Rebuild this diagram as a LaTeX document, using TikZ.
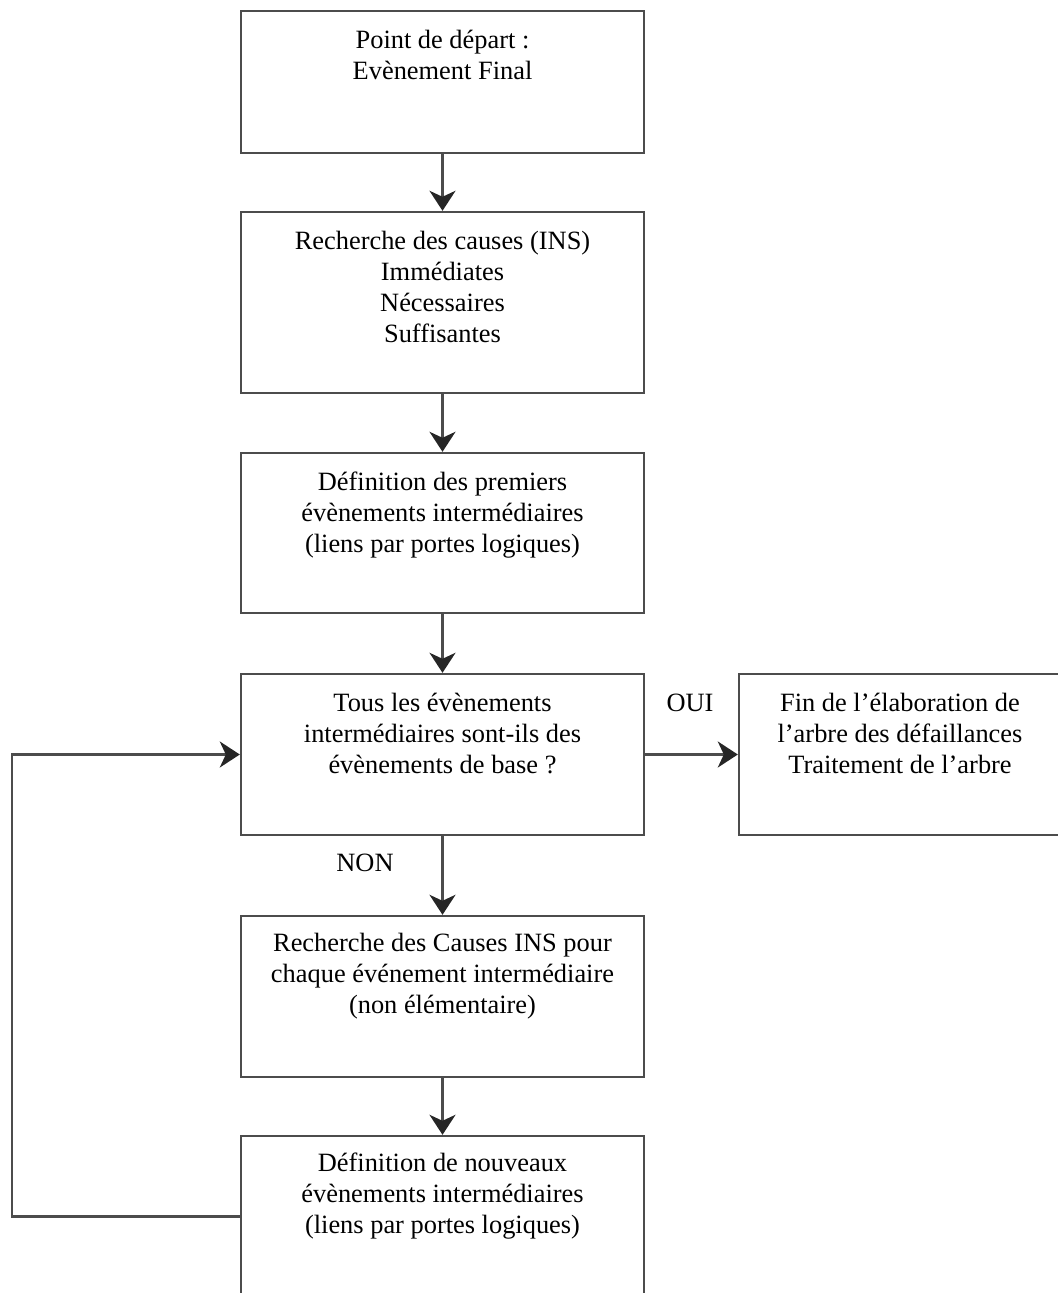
\documentclass[tikz,border=0pt]{standalone}
\usepackage{fontspec}
\setmainfont{Liberation Serif}
\usetikzlibrary{arrows.meta,positioning}

\begin{document}
\begin{tikzpicture}[x=0.5pt, y=-0.5pt,
		box/.style={draw=black!70, line width=1.2pt, minimum width=201.5pt, inner sep=0pt},
		txt/.style={anchor=north, align=center, inner sep=0pt, font=\fontsize{13.2}{15.6}\selectfont},
		lbl/.style={inner sep=0pt, font=\fontsize{13.2}{15.6}\selectfont},
		flow/.style={draw=black!70, line width=1.2pt, -{Stealth[length=10pt, width=13pt, inset=3pt, black!85]}}]
		\useasboundingbox[fill=white] (0,0) rectangle (1057,1293);
		
		%main column
		\node[box, minimum height=71pt] (depart) at (442.5, 82){};
		\node[box, minimum height=90.5pt] (causes) at (442.5, 302.5){};
		\node[box, minimum height=80pt] (premiers) at (442.5, 533){};
		\node[box, minimum height=80.5pt] (test) at (442.5, 754.5){};
		\node[box, minimum height=80.5pt] (recherche) at (442.5, 996.5){};
		\node[box, minimum height=80.5pt] (nouveaux) at (442.5, 1216.5){};
		
		%end of the tree
		\node[box, minimum width=161pt, minimum height=80.5pt] (fin) at (900, 754.5){};
		
		%texts
		\node[txt] (tdepart) at (442.5, 26){\strut Point de départ :\\Evènement Final};
		\node[txt] (tcauses) at (442.5, 227){\strut Recherche des causes (INS)\\Immédiates\\Nécessaires\\Suffisantes};
		\node[txt] (tpremiers) at (442.5, 468){\strut Définition des premiers\\évènements intermédiaires\\(liens par portes logiques)};
		\node[txt] (ttest) at (442.5, 689){\strut Tous les évènements\\intermédiaires sont-ils des\\évènements de base ?};
		\node[txt] (tfin) at (900, 689){\strut Fin de l’élaboration de\\l’arbre des défaillances\\Traitement de l’arbre};
		\node[txt] (trecherche) at (442.5, 929){\strut Recherche des Causes INS pour\\chaque événement intermédiaire\\(non élémentaire)};
		\node[txt] (tnouveaux) at (442.5, 1149){\strut Définition de nouveaux\\évènements intermédiaires\\(liens par portes logiques)};
		
		\node[lbl] (oui) at (690, 703){OUI};
		\node[lbl] (non) at (365, 863){NON};
		
		%arrows
		\draw[flow] (depart) -- (causes);
		\draw[flow] (causes) -- (premiers);
		\draw[flow] (premiers) -- (test);
		\draw[flow] (test) -- (fin);
		\draw[flow] (test) -- (recherche);
		\draw[flow] (recherche) -- (nouveaux);
		
		%loop back
		\coordinate (retour) at (12, 1216.5);
		\draw[flow] (nouveaux.west) -- (retour) |- (test.west);
\end{tikzpicture}
\end{document}
